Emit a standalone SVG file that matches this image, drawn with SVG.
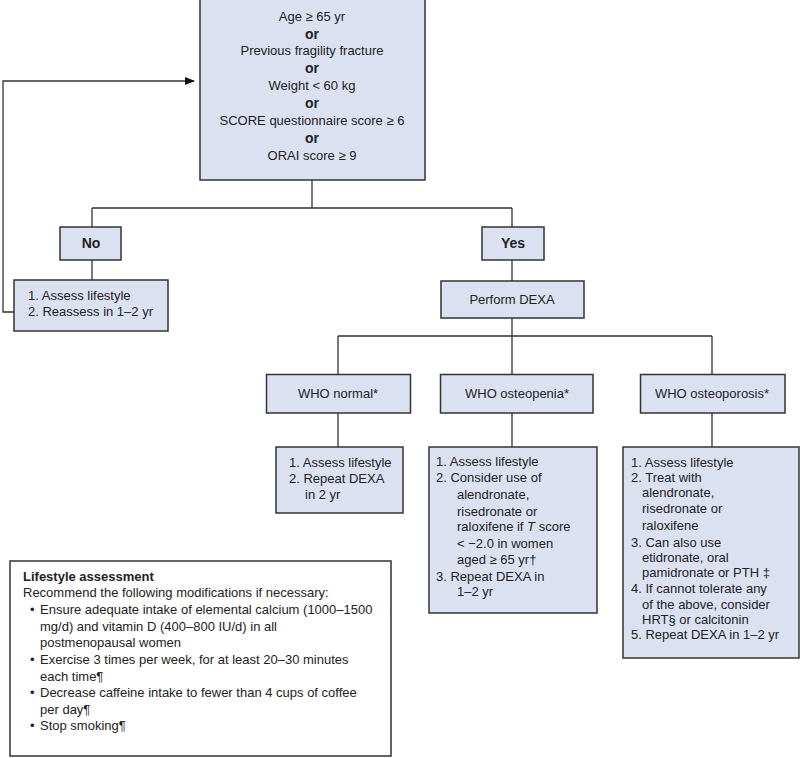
<svg xmlns="http://www.w3.org/2000/svg" width="800" height="758" viewBox="0 0 800 758">
<defs>
<marker id="arr" markerWidth="10" markerHeight="8" refX="9" refY="4" orient="auto" markerUnits="userSpaceOnUse">
<path d="M0,0 L10,4 L0,8 Z" fill="#111"/>
</marker>
<style>
.box{fill:#dce1f2;stroke:#333;stroke-width:1.5}
.wbox{fill:#fff;stroke:#333;stroke-width:1.5}
.ln{fill:none;stroke:#333;stroke-width:1.3}
text{font-family:"Liberation Sans",Arial,sans-serif;font-size:13px;fill:#222}
.c{text-anchor:middle}
.b{font-weight:bold;font-size:14px}
</style>
</defs>
<rect width="800" height="758" fill="#fff"/>
<g id="connectors">
<path class="ln" d="M312,180 V208 M92,208 H512 M92,208 V227 M512,208 V227 M92,260 V280 M512,260 V281 M512,318 V374 M338,336 H712 M338,336 V374 M712,336 V374 M338,413 V447 M512,413 V447 M712,413 V447"/>
<path class="ln" d="M14,312 H3 V81 H194" stroke="#111" marker-end="url(#arr)"/>
</g>
<g id="criteria">
<rect class="box" x="200" y="-1" width="225" height="181"/>
<text class="c" x="312" y="20.5">Age ≥ 65 yr</text>
<text class="c b" x="312" y="38.5">or</text>
<text class="c" x="312" y="55">Previous fragility fracture</text>
<text class="c b" x="312" y="73">or</text>
<text class="c" x="312" y="90">Weight &lt; 60 kg</text>
<text class="c b" x="312" y="108">or</text>
<text class="c" x="312" y="125">SCORE questionnaire score ≥ 6</text>
<text class="c b" x="312" y="143">or</text>
<text class="c" x="312" y="160">ORAI score ≥ 9</text>
</g>
<g id="no">
<rect class="box" x="60" y="227" width="61" height="33"/>
<text class="c b" x="91" y="248">No</text>
</g>
<g id="no-action">
<rect class="box" x="14" y="280" width="154" height="51"/>
<text x="28" y="300">1. Assess lifestyle</text>
<text x="28" y="316">2. Reassess in 1–2 yr</text>
</g>
<g id="yes">
<rect class="box" x="482" y="227" width="62" height="33"/>
<text class="c b" x="513" y="248">Yes</text>
</g>
<g id="dexa">
<rect class="box" x="441" y="281" width="143" height="37"/>
<text class="c" x="512" y="304">Perform DEXA</text>
</g>
<g id="who-normal">
<rect class="box" x="266.5" y="374.5" width="144" height="38.5"/>
<text class="c" x="338" y="398">WHO normal*</text>
</g>
<g id="who-osteopenia">
<rect class="box" x="440.5" y="374.5" width="152.5" height="38.5"/>
<text class="c" x="517" y="398">WHO osteopenia*</text>
</g>
<g id="who-osteoporosis">
<rect class="box" x="640.5" y="374.5" width="144.5" height="38.5"/>
<text class="c" x="712" y="398">WHO osteoporosis*</text>
</g>
<g id="normal-action">
<rect class="box" x="276" y="447" width="127" height="66"/>
<text x="289" y="467">1. Assess lifestyle</text>
<text x="289" y="483">2. Repeat DEXA</text>
<text x="305" y="499">in 2 yr</text>
</g>
<g id="osteopenia-action">
<rect class="box" x="429" y="447" width="168" height="166"/>
<text x="436" y="466">1. Assess lifestyle</text>
<text x="436" y="482">2. Consider use of</text>
<text x="457" y="499">alendronate,</text>
<text x="457" y="516">risedronate or</text>
<text x="457" y="531">raloxifene if <tspan font-style="italic">T</tspan> score</text>
<text x="457" y="548">&lt; −2.0 in women</text>
<text x="457" y="564">aged ≥ 65 yr†</text>
<text x="436" y="581">3. Repeat DEXA in</text>
<text x="457" y="596">1–2 yr</text>
</g>
<g id="osteoporosis-action">
<rect class="box" x="623" y="447" width="176" height="211"/>
<text x="631" y="467">1. Assess lifestyle</text>
<text x="631" y="482">2. Treat with</text>
<text x="642" y="497">alendronate,</text>
<text x="642" y="513">risedronate or</text>
<text x="642" y="530">raloxifene</text>
<text x="631" y="547">3. Can also use</text>
<text x="642" y="562">etidronate, oral</text>
<text x="642" y="577">pamidronate or PTH ‡</text>
<text x="631" y="593">4. If cannot tolerate any</text>
<text x="642" y="609">of the above, consider</text>
<text x="642" y="624">HRT§ or calcitonin</text>
<text x="631" y="639">5. Repeat DEXA in 1–2 yr</text>
</g>
<g id="lifestyle">
<rect class="wbox" x="10" y="561" width="381" height="195"/>
<text x="23" y="581" font-weight="bold">Lifestyle assessment</text>
<text x="23" y="597">Recommend the following modifications if necessary:</text>
<text x="30" y="614">•</text>
<text x="40" y="614">Ensure adequate intake of elemental calcium (1000–1500</text>
<text x="40" y="631">mg/d) and vitamin D (400–800 IU/d) in all</text>
<text x="40" y="647">postmenopausal women</text>
<text x="30" y="664">•</text>
<text x="40" y="664">Exercise 3 times per week, for at least 20–30 minutes</text>
<text x="40" y="681">each time¶</text>
<text x="30" y="697">•</text>
<text x="40" y="697">Decrease caffeine intake to fewer than 4 cups of coffee</text>
<text x="40" y="714">per day¶</text>
<text x="30" y="730">•</text>
<text x="40" y="730">Stop smoking¶</text>
</g>
</svg>
